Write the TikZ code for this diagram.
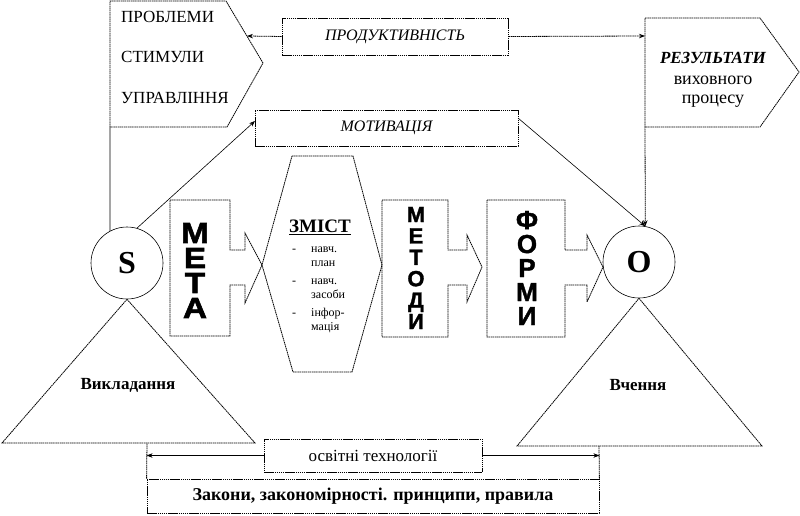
\documentclass[tikz,border=0pt]{standalone}
\usepackage{fontspec}
\setmainfont{Liberation Serif}
\setsansfont{Liberation Sans}
\newfontfamily\heavyfont[FakeBold=1.5]{Liberation Sans Bold}
\newfontfamily\heavywide[FakeBold=2,FakeStretch=1.15]{Liberation Sans Bold}
\usetikzlibrary{arrows.meta}
\tikzset{
  dotl/.style={line width=0.8pt, dash pattern=on 1.5pt off 0.6pt},
  sol/.style={line width=0.6pt},
  arr/.style={-{Stealth[length=6pt,width=4.5pt]}},
  dbox/.style={dotl, draw, inner sep=0pt, anchor=center},
  plain/.style={inner sep=0pt},
  big/.style={inner sep=0pt, align=center},
}
\begin{document}
\begin{tikzpicture}[x=1pt,y=-1pt]
\useasboundingbox (0,0) rectangle (800,516);

% ---------- top-left pentagon
\draw[dotl] (110,127) -- (110,1) -- (226,1) -- (263,63) -- (227,127) -- cycle;
\node[plain, anchor=west, font=\fontsize{17}{20}\selectfont] (prob1) at (121,17) {ПРОБЛЕМИ};
\node[plain, anchor=west, font=\fontsize{17}{20}\selectfont] (prob2) at (121,57) {СТИМУЛИ};
\node[plain, anchor=west, font=\fontsize{17}{20}\selectfont] (prob3) at (121,98) {УПРАВЛІННЯ};
\coordinate (pentR) at (247,36);
\coordinate (pentB) at (110,127);

% ---------- results pentagon
\draw[dotl] (645,127) -- (645,18) -- (760,18) -- (799,72) -- (760,127) -- cycle;
\node[plain, font=\bfseries\itshape\fontsize{17}{20}\selectfont] (res1) at (713,58) {РЕЗУЛЬТАТИ};
\node[plain, font=\fontsize{18}{20}\selectfont] (res2) at (713,80) {виховного};
\node[plain, font=\fontsize{18}{20}\selectfont] (res3) at (713,101) {процесу};
\coordinate (resL) at (645,36);
\coordinate (resB) at (645,127);

% ---------- dashed boxes
\node[dbox, minimum width=226pt, minimum height=37pt, font=\itshape\fontsize{16}{18}\selectfont] (prod) at (395,36.5) {ПРОДУКТИВНІСТЬ};
\node[dbox, minimum width=263pt, minimum height=36pt, font=\itshape\fontsize{16}{18}\selectfont] (motiv) at (386.5,128) {МОТИВАЦІЯ};
\coordinate (motivIn) at (255,121);
\coordinate (motivOut) at (518,118);

\draw[dotl,arr] (prod.west) -- (pentR);
\draw[dotl,arr] (prod.east) -- (resL);

% ---------- circles
\node[circle, draw, sol, minimum size=72pt, inner sep=0pt, font=\bfseries\fontsize{32}{32}\selectfont] (S) at (127,263) {S};
\node[circle, draw, sol, minimum size=72pt, inner sep=0pt, font=\bfseries\fontsize{32}{32}\selectfont] (O) at (639,262) {O};

\draw[sol] (pentB) -- (S.118);
\draw[sol,arr] (S.74) -- (motivIn);
\draw[sol,arr] (motivOut) -- (O.80);
\draw[dotl,arr] (resB) -- (O.80);

% ---------- triangles
\draw[dotl] (S.south) -- (255,443) -- (2,443) -- cycle;
\draw[dotl] (O.south) -- (762,446) -- (517,446) -- cycle;
\node[plain, font=\bfseries\fontsize{17}{20}\selectfont] (vykl) at (128,385) {Викладання};
\node[plain, font=\bfseries\fontsize{17}{20}\selectfont] (vch) at (638,385) {Вчення};

% ---------- МЕТА
\draw[dotl] (170,200) -- (230,200) -- (230,250) -- (245,250) -- (245,233) -- (262,265) -- (245,303) -- (245,285) -- (230,285) -- (230,336) -- (170,336) -- cycle;
\foreach \l [count=\i] in {М,Е,Т,А}
  \node[plain, font=\heavywide\fontsize{29}{29}\selectfont] (meta\i) at (195,233+25*\i-25) {\l};

% ---------- ЗМІСТ
\draw[dotl] (292,156) -- (353,156) -- (382,265) -- (352,372) -- (293,372) -- (262,265) -- cycle;
\node[plain, font=\bfseries\fontsize{19}{20}\selectfont] (zmist) at (320,227) {\underline{ЗМІСТ}};
\node[plain, anchor=base west, font=\fontsize{12}{14.5}\selectfont] (zlist) at (292,252)
  {\begin{tabular}[t]{@{}p{19pt}@{}l@{}}
  -&навч.\\
   &план\\[3pt]
  -&навч.\\
   &засоби\\[3pt]
  -&інфор-\\
   &мація
  \end{tabular}};

% ---------- МЕТОДИ
\draw[dotl] (382,200) -- (448,200) -- (448,250) -- (467,250) -- (467,235) -- (482,267) -- (467,302) -- (467,285) -- (448,285) -- (448,337) -- (382,337) -- cycle;
\node[big, font=\heavyfont\fontsize{22}{21.4}\selectfont] (metody) at (416,268) {М\\Е\\Т\\О\\Д\\И};

% ---------- ФОРМИ
\draw[dotl] (487,200) -- (565,200) -- (565,250) -- (587,250) -- (587,235) -- (603,267) -- (587,302) -- (587,285) -- (565,285) -- (565,337) -- (487,337) -- cycle;
\node[big, font=\heavyfont\fontsize{26}{24}\selectfont] (formy) at (527,268) {Ф\\О\\Р\\М\\И};

% ---------- bottom
\node[dbox, minimum width=218pt, minimum height=33pt, font=\fontsize{17}{20}\selectfont] (tech) at (373,455.5) {освітні технології};
\node[dbox, minimum width=452pt, minimum height=34pt, font=\bfseries\fontsize{18}{20}\selectfont] (laws) at (373,496) {Закони, закономірності. принципи, правила};
\coordinate (lawsLT) at (147,443);
\coordinate (lawsRT) at (599,446);
\draw[sol,arr] (tech.west) -- (laws.north west |- tech.west);
\draw[sol,arr] (tech.east) -- (laws.north east |- tech.east);
\draw[dotl] (laws.north west) -- (lawsLT);
\draw[dotl] (laws.north east) -- (lawsRT);
\end{tikzpicture}
\end{document}
